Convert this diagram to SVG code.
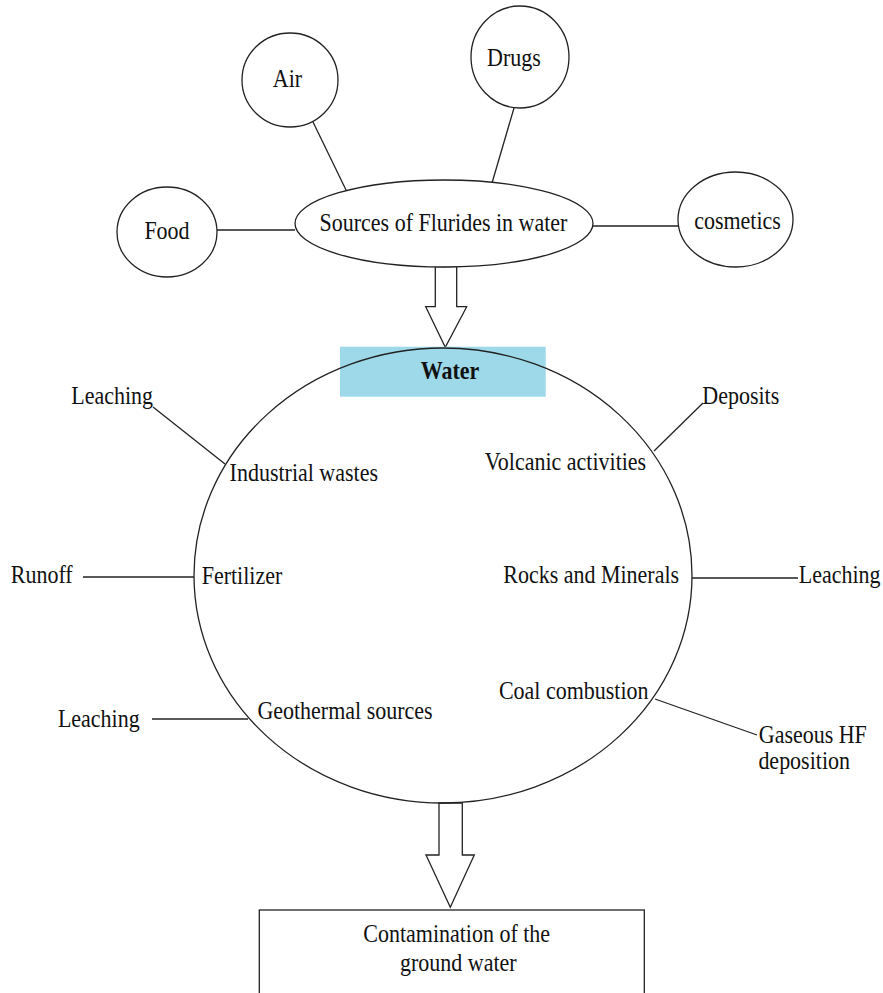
<svg xmlns="http://www.w3.org/2000/svg" width="883" height="993" viewBox="0 0 883 993">
<style>
.s{fill:#fff;stroke:#222;stroke-width:1.3}
.n{fill:none;stroke:#222;stroke-width:1.3}
.l{stroke:#222;stroke-width:1.3;fill:none}
text{font-family:"Liberation Serif","Times New Roman",serif;font-size:22px;fill:#111;transform-box:fill-box;transform-origin:center;transform:scale(1,1.1)}
.m{text-anchor:middle}
.b{font-weight:bold}
</style>
<rect width="883" height="993" fill="#fff"/>
<g id="connectors">
<line class="l" x1="313" y1="122" x2="347" y2="192"/>
<line class="l" x1="514" y1="108" x2="492" y2="183"/>
<line class="l" x1="217" y1="230" x2="295" y2="230"/>
<line class="l" x1="593" y1="226" x2="678" y2="226"/>
<line class="l" x1="153" y1="407" x2="225" y2="464"/>
<line class="l" x1="83" y1="577" x2="194" y2="577"/>
<line class="l" x1="152" y1="719" x2="248" y2="719"/>
<line class="l" x1="703" y1="403" x2="654" y2="451"/>
<line class="l" x1="692" y1="578" x2="798" y2="578"/>
<line class="l" x1="655" y1="699" x2="757" y2="735"/>
<polygon class="s" points="435.3,266.7 456.7,266.7 456.7,306.7 466.7,306.7 445.3,347.3 425.7,306.7 435.3,306.7"/>
<polygon class="s" points="439,803 462.3,803 462.3,855 474.3,855 450.3,907.3 426,855 439,855"/>
</g>
<g id="air"><ellipse class="s" cx="290" cy="80" rx="48" ry="47"/><text class="m" x="287.5" y="86">Air</text></g>
<g id="drugs"><ellipse class="s" cx="520" cy="57" rx="49" ry="51"/><text class="m" x="514" y="65">Drugs</text></g>
<g id="food"><ellipse class="s" cx="167" cy="232" rx="50" ry="45"/><text class="m" x="167" y="238">Food</text></g>
<g id="cosmetics"><ellipse class="s" cx="735.5" cy="219.5" rx="57.5" ry="47.5"/><text class="m" x="737.5" y="228">cosmetics</text></g>
<g id="sources"><ellipse class="s" cx="444" cy="223.5" rx="149" ry="43.5"/><text class="m" x="443.5" y="230">Sources of Flurides in water</text></g>
<g id="water">
<rect x="340" y="346.7" width="205.7" height="50" fill="#9DD9E9"/>
<ellipse class="n" cx="443" cy="575.5" rx="249" ry="227.5"/>
<text class="m b" x="450" y="378">Water</text>
</g>
<g id="industrial"><text class="m" x="303.8" y="480">Industrial wastes</text></g>
<g id="fertilizer"><text class="m" x="242" y="583">Fertilizer</text></g>
<g id="geothermal"><text class="m" x="345" y="718">Geothermal sources</text></g>
<g id="volcanic"><text class="m" x="565.5" y="469">Volcanic activities</text></g>
<g id="rocks"><text class="m" x="591.2" y="582">Rocks and Minerals</text></g>
<g id="coal"><text class="m" x="573.7" y="698">Coal combustion</text></g>
<g id="leaching1"><text class="m" x="112.2" y="403">Leaching</text></g>
<g id="runoff"><text class="m" x="41.7" y="582">Runoff</text></g>
<g id="leaching3"><text class="m" x="98.8" y="726">Leaching</text></g>
<g id="deposits"><text class="m" x="740.8" y="403">Deposits</text></g>
<g id="leaching2"><text class="m" x="839.7" y="582">Leaching</text></g>
<g id="gaseous"><text class="m" x="812.8" y="742">Gaseous HF</text><text class="m" x="804.2" y="768">deposition</text></g>
<g id="contamination">
<rect class="s" x="259.3" y="910" width="385" height="100"/>
<text class="m" x="456.7" y="941">Contamination of the</text>
<text class="m" x="458.3" y="970">ground water</text>
</g>
</svg>
